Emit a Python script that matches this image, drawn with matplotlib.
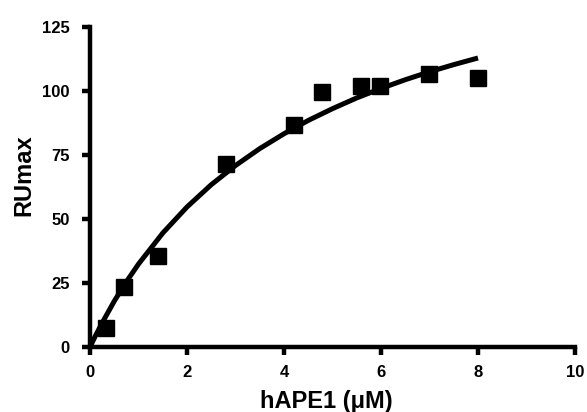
import matplotlib
matplotlib.use("Agg")
import matplotlib.pyplot as plt

# Data
conc = [0.33, 0.70, 1.40, 2.80, 4.20, 4.78, 5.59, 5.98, 6.98, 7.99]
rumax = [7.4, 23.4, 35.5, 71.5, 86.7, 99.6, 102.1, 102.0, 106.6, 105.2]

fit_x = [0.0, 0.1, 0.25, 0.5, 0.75, 1.0, 1.5, 2.0, 2.5, 3.0, 3.5, 4.0, 4.5, 5.0, 5.5, 6.0, 6.5, 7.0, 7.5, 8.0]
fit_y = [0.0, 3.9, 9.4, 17.9, 25.5, 32.4, 44.5, 54.7, 63.4, 70.9, 77.5, 83.3, 88.5, 93.1, 97.3, 101.0, 104.4, 107.5, 110.3, 112.9]

xticks = [0, 2, 4, 6, 8, 10]
yticks = [0, 25, 50, 75, 100, 125]

plt.rcParams['font.family'] = ['Liberation Sans', 'DejaVu Sans']
plt.rcParams['font.weight'] = 'bold'

fig = plt.figure(figsize=(5.87, 4.12), dpi=100)
ax = fig.add_axes([90/587, 65/412, 485/587, 320/412])

ax.plot(fit_x, fit_y, color='black', lw=3.6, solid_capstyle='butt')
ax.plot(conc, rumax, 's', color='black', markersize=11.3, clip_on=False)

ax.set_xlim(0, 10)
ax.set_ylim(0, 125)
ax.set_xticks(xticks)
ax.set_yticks(yticks)
ax.set_xticklabels([str(t) for t in xticks], fontsize=12, fontweight='bold')
ax.set_yticklabels([str(t) for t in yticks], fontsize=12, fontweight='bold')

for s in ['top', 'right']:
    ax.spines[s].set_visible(False)
for s in ['left', 'bottom']:
    ax.spines[s].set_linewidth(3.2)
    ax.spines[s].set_capstyle('projecting')

ax.tick_params(axis='both', direction='out', length=5.5, width=3.2)
ax.tick_params(axis='x', pad=7.5)
ax.tick_params(axis='y', pad=9)

ax.set_xlabel('hAPE1 (\u03bcM)', fontsize=17, fontweight='bold')
ax.set_ylabel('RUmax', fontsize=17, fontweight='bold')
ax.xaxis.set_label_coords(0.487, -0.133)
ax.yaxis.set_label_coords(-0.113, 0.537)

fig.savefig('out.png', dpi=100)
